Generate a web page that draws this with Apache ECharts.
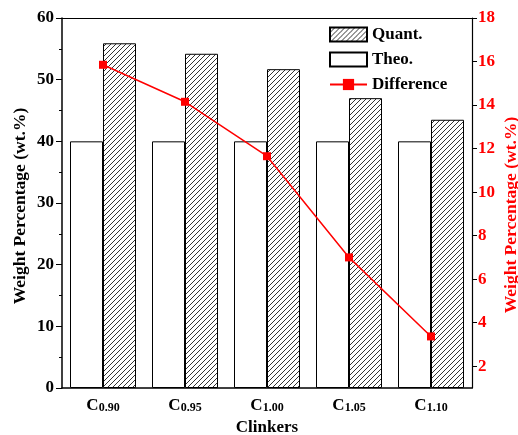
<!DOCTYPE html>
<html><head><meta charset="utf-8">
<script src="https://cdn.jsdelivr.net/npm/echarts@6/dist/echarts.min.js"></script>
<style>html,body{margin:0;padding:0;background:#fff}#c{width:518px;height:435px}</style>
</head><body><div id="c"></div>
<script>
const categories = ['C0.90','C0.95','C1.00','C1.05','C1.10'];
const theo = [40, 40, 40, 40, 40];
const quant = [55.9, 54.2, 51.7, 47.0, 43.5];
const difference = [15.85, 14.15, 11.65, 7.0, 3.37];
const leftTicks = [0,10,20,30,40,50,60];
const rightTicks = [2,4,6,8,10,12,14,16,18];

function hatch(){
  const c = document.createElement('canvas');
  c.width = 5; c.height = 5;
  const g = c.getContext('2d');
  g.fillStyle = '#fff'; g.fillRect(0,0,5,5);
  g.strokeStyle = '#000'; g.lineWidth = 0.8;
  g.beginPath();
  g.moveTo(-1,6); g.lineTo(6,-1);
  g.moveTo(-6,6); g.lineTo(1,-1);
  g.moveTo(4,6); g.lineTo(11,-1);
  g.stroke();
  return c;
}
const font = 'Liberation Serif';
const chart = echarts.init(document.getElementById('c'), null, {renderer:'canvas'});
chart.setOption({
  animation:false,
  textStyle:{fontFamily:font},
  grid:{left:62, right:46, top:18, bottom:47, outerBoundsMode:'none', containLabel:false},
  legend:{
    orient:'vertical', left:329, top:26, padding:0, itemWidth:37, itemHeight:14, itemGap:8,
    data:[{name:'Quant.', icon:'rect'},{name:'Theo.', icon:'rect'},{name:'Difference'}],
    textStyle:{fontFamily:font, fontWeight:'bold', fontSize:17, color:'#000'}
  },
  xAxis:[{
    type:'category', data:categories, position:'bottom',
    axisLine:{lineStyle:{color:'#000', width:1.5}},
    axisTick:{alignWithLabel:true, length:5, lineStyle:{color:'#000', width:1.2}},
    axisLabel:{interval:0, hideOverlap:false, margin:9, formatter:v=>'{a|'+v.slice(0,1)+'}{b|'+v.slice(1)+'}',
      rich:{a:{fontFamily:font,fontWeight:'bold',fontSize:17,color:'#000'},
            b:{fontFamily:font,fontWeight:'bold',fontSize:12,color:'#000',padding:[5,0,0,0]}}},
    name:'Clinkers', nameLocation:'middle', nameGap:28,
    nameTextStyle:{fontFamily:font,fontWeight:'bold',fontSize:17,color:'#000'}
  },{
    type:'category', data:categories, position:'top',
    axisLine:{lineStyle:{color:'#000', width:1.2}},
    axisTick:{alignWithLabel:true, inside:true, length:4, lineStyle:{color:'#000'}},
    axisLabel:{show:false}
  }],
  yAxis:[{
    type:'value', min:0, max:60, interval:10,
    axisLine:{show:true, lineStyle:{color:'#000', width:1.5}},
    axisTick:{show:true, length:6, lineStyle:{color:'#000'}},
    minorTick:{show:true, splitNumber:2, length:3, lineStyle:{color:'#000'}},
    splitLine:{show:false},
    axisLabel:{customValues:leftTicks, margin:8, fontFamily:font, fontWeight:'bold', fontSize:17, color:'#000'},
    name:'Weight Percentage (wt.%)', nameLocation:'middle', nameGap:33, nameRotate:90, nameMoveOverlap:false,
    nameTextStyle:{fontFamily:font,fontWeight:'bold',fontSize:17.5,color:'#000', padding:[0,6,0,0]}
  },{
    type:'value', min:1, max:18, interval:1, position:'right',
    axisLine:{show:true, lineStyle:{color:'#000', width:1.2}},
    axisTick:{show:true, customValues:rightTicks, length:5, lineStyle:{color:'#000'}},
    splitLine:{show:false},
    axisLabel:{customValues:rightTicks, margin:6, fontFamily:font, fontWeight:'bold', fontSize:17, color:'#f00'},
    name:'Weight Percentage (wt.%)', nameLocation:'middle', nameGap:30, nameRotate:90, nameMoveOverlap:false,
    nameTextStyle:{fontFamily:font,fontWeight:'bold',fontSize:17.5,color:'#f00', padding:[0,24,0,0]}
  }],
  series:[
    {name:'Theo.', type:'bar', data:theo, barWidth:33, barGap:'0%',
     itemStyle:{color:'#fff', borderColor:'#000', borderWidth:1}},
    {name:'Quant.', type:'bar', data:quant, barWidth:33, barGap:'0%',
     itemStyle:{color:{image:hatch(), repeat:'repeat'}, borderColor:'#000', borderWidth:1}},
    {name:'Difference', type:'line', yAxisIndex:1, data:difference,
     symbol:'rect', symbolSize:8, lineStyle:{color:'#f00', width:1.5},
     itemStyle:{color:'#f00'}, z:5}
  ]
});
</script></body></html>
